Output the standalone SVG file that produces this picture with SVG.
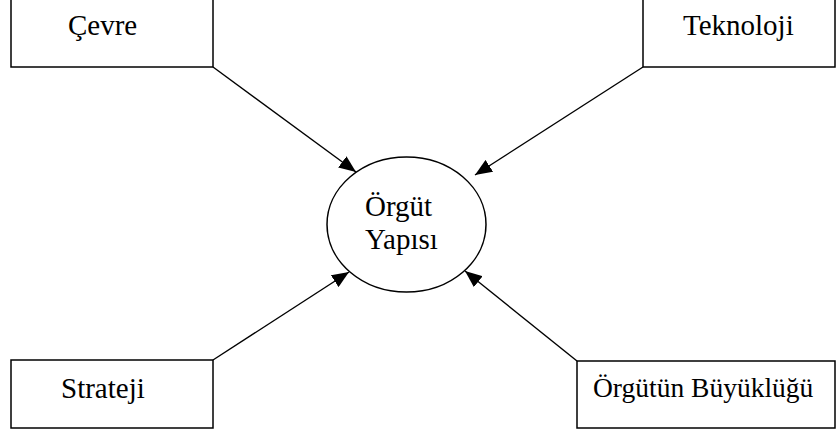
<svg xmlns="http://www.w3.org/2000/svg" width="838" height="434" viewBox="0 0 838 434">
<style>
.box{fill:#fff;stroke:#000;stroke-width:1.5}
.lbl{font-family:"Liberation Serif","Times New Roman",serif;font-size:29px;fill:#000}
.conn{stroke:#000;stroke-width:1.4;fill:none;marker-end:url(#ah)}
</style>
<defs>
<marker id="ah" markerUnits="userSpaceOnUse" markerWidth="18" markerHeight="14" refX="17" refY="7" orient="auto">
<path d="M0,0 L17,7 L0,14 Z" fill="#000"/>
</marker>
</defs>
<rect width="838" height="434" fill="#fff"/>
<g id="cevre">
<rect class="box" x="11" y="-1" width="202" height="68"/>
<text class="lbl" x="68" y="35">Çevre</text>
</g>
<g id="teknoloji">
<rect class="box" x="643" y="-1" width="192" height="68"/>
<text class="lbl" x="683" y="35">Teknoloji</text>
</g>
<g id="strateji">
<rect class="box" x="11" y="360" width="202" height="68"/>
<text class="lbl" x="61" y="398">Strateji</text>
</g>
<g id="buyukluk">
<rect class="box" x="577" y="361" width="258" height="67"/>
<text class="lbl" x="593" y="397" style="font-size:27.5px">Örgütün Büyüklüğü</text>
</g>
<g id="yapi">
<ellipse class="box" cx="406.5" cy="224.5" rx="79.5" ry="67.5"/>
<text class="lbl" x="365" y="216">Örgüt</text>
<text class="lbl" x="365" y="249">Yapısı</text>
</g>
<g id="connectors">
<line class="conn" x1="213" y1="67" x2="356" y2="172"/>
<line class="conn" x1="643" y1="67" x2="475" y2="175"/>
<line class="conn" x1="213" y1="360" x2="349" y2="272"/>
<line class="conn" x1="577" y1="361" x2="465" y2="271"/>
</g>
</svg>
